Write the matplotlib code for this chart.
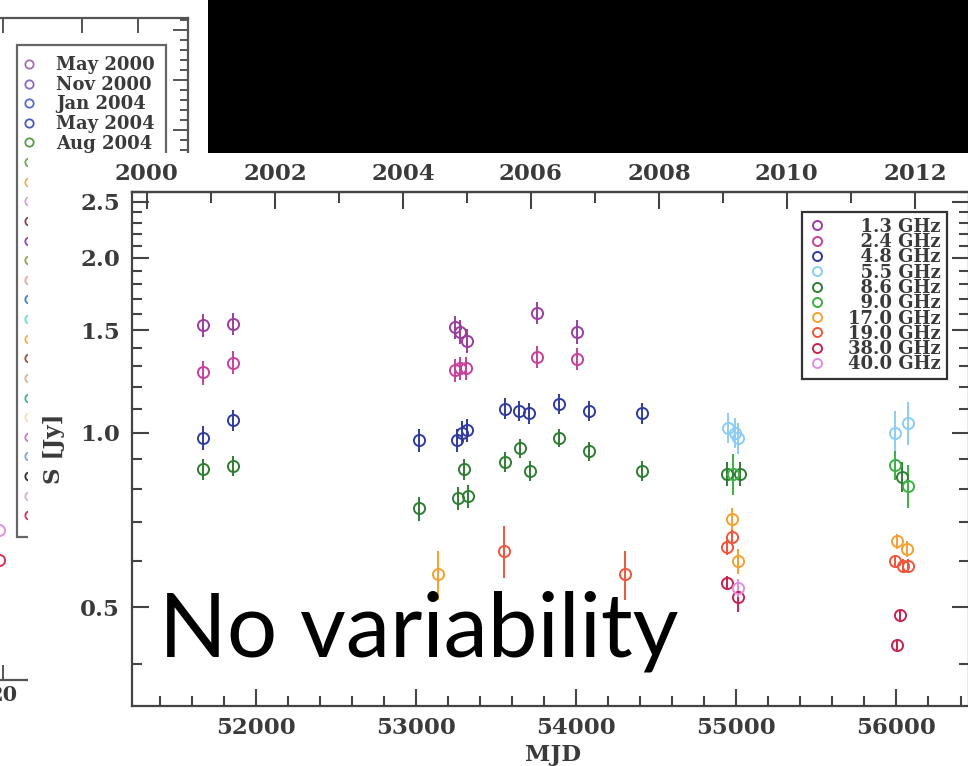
import matplotlib
matplotlib.use('Agg')
import matplotlib.pyplot as plt
from matplotlib.lines import Line2D
from matplotlib.patches import Rectangle
from matplotlib.ticker import FixedLocator, MultipleLocator, NullFormatter

plt.rcParams['font.family'] = 'DejaVu Serif'
plt.rcParams['font.weight'] = 'bold'
TXT = '#3a3a3a'
SPINE = '#444444'

# ---- light curve data (MJD, S [Jy], error [Jy]) per frequency ----
freq_labels = ['1.3 GHz', '2.4 GHz', '4.8 GHz', '5.5 GHz', '8.6 GHz',
               '9.0 GHz', '17.0 GHz', '19.0 GHz', '38.0 GHz', '40.0 GHz']
freq_colors = ['#9b3d9e', '#c8409b', '#2f3c9e', '#8ccdf5', '#2e7d32',
               '#3cb043', '#f5a030', '#f0553a', '#c8234f', '#e08fe0']

mjd_13 = [51669, 51860, 53244, 53275, 53317, 53754, 54004]
s_13 = [1.53, 1.54, 1.52, 1.49, 1.44, 1.61, 1.49]
e_13 = [0.07, 0.07, 0.07, 0.07, 0.07, 0.07, 0.07]

mjd_24 = [51669, 51860, 53244, 53275, 53310, 53754, 54004]
s_24 = [1.27, 1.32, 1.28, 1.29, 1.29, 1.35, 1.34]
e_24 = [0.06, 0.06, 0.06, 0.06, 0.06, 0.06, 0.06]

mjd_48 = [51669, 51860, 53021, 53255, 53286, 53317, 53556, 53645, 53708,
          53895, 54082, 54410]
s_48 = [0.98, 1.05, 0.97, 0.97, 1.00, 1.01, 1.10, 1.09, 1.08, 1.12, 1.09, 1.08]
e_48 = [0.045, 0.045, 0.045, 0.045, 0.045, 0.045, 0.045, 0.045, 0.045,
        0.045, 0.045, 0.045]

mjd_55 = [54950, 54992, 55013, 55991, 56074]
s_55 = [1.02, 1.00, 0.98, 1.00, 1.04]
e_55 = [0.06, 0.06, 0.06, 0.09, 0.09]

mjd_86 = [51669, 51860, 53021, 53265, 53300, 53327, 53556, 53650, 53712,
          53895, 54082, 54410, 54940, 55023, 56033]
s_86 = [0.865, 0.876, 0.74, 0.77, 0.865, 0.776, 0.89, 0.94, 0.86,
        0.98, 0.93, 0.86, 0.85, 0.85, 0.84]
e_86 = [0.035, 0.035, 0.035, 0.035, 0.035, 0.035, 0.035, 0.035, 0.035,
        0.035, 0.035, 0.035, 0.04, 0.04, 0.05]

mjd_90 = [54981, 55991, 56074]
s_90 = [0.85, 0.88, 0.81]
e_90 = [0.07, 0.05, 0.07]

mjd_170 = [53140, 54971, 55013, 56001, 56064]
s_170 = [0.57, 0.71, 0.60, 0.65, 0.63]
e_170 = [0.055, 0.03, 0.03, 0.02, 0.02]

mjd_190 = [53550, 54305, 54940, 54971, 55991, 56043, 56074]
s_190 = [0.626, 0.57, 0.636, 0.66, 0.60, 0.59, 0.59]
e_190 = [0.065, 0.055, 0.02, 0.02, 0.015, 0.015, 0.015]

mjd_380 = [54940, 55013, 56022, 56001]
s_380 = [0.55, 0.52, 0.485, 0.43]
e_380 = [0.015, 0.03, 0.01, 0.01]

mjd_400 = [55013]
s_400 = [0.54]
e_400 = [0.02]

series = [(mjd_13, s_13, e_13), (mjd_24, s_24, e_24), (mjd_48, s_48, e_48),
          (mjd_55, s_55, e_55), (mjd_86, s_86, e_86), (mjd_90, s_90, e_90),
          (mjd_170, s_170, e_170), (mjd_190, s_190, e_190),
          (mjd_380, s_380, e_380), (mjd_400, s_400, e_400)]

y_major = [0.5, 1.0, 1.5, 2.0, 2.5]
y_minor = [0.4, 0.6, 0.7, 0.8, 0.9, 1.1, 1.2, 1.3, 1.4, 1.6, 1.7, 1.8, 1.9,
           2.1, 2.2, 2.3, 2.4, 2.6]
years_major = [2000, 2002, 2004, 2006, 2008, 2010, 2012]
years_minor = [2001, 2003, 2005, 2007, 2009, 2011]

# ---- background (partly hidden) spectrum plot ----
epoch_labels = ['May 2000', 'Nov 2000', 'Jan 2004', 'May 2004', 'Aug 2004',
                'Oct 2004', 'Nov 2004', 'Dec 2004', 'Feb 2005', 'Apr 2005',
                'Jun 2005', 'Aug 2005', 'Oct 2005', 'Dec 2005', 'Mar 2006',
                'Jun 2006', 'Sep 2006', 'Dec 2006', 'Mar 2007', 'Jul 2007',
                'Oct 2007', 'Apr 2009', 'May 2009', 'Mar 2012']
epoch_colors = ['#a070b0', '#8a6cc0', '#5b6ac8', '#4a5ac0', '#5a9a4a',
                '#66b055', '#f0b060', '#d8a0e0', '#8b4a4a', '#9a40d0',
                '#9aa050', '#f0a0a0', '#4080e0', '#60dede', '#f0b050',
                '#a05040', '#e0b090', '#40b0a0', '#f8e0b0', '#e070c0',
                '#80a0f0', '#303030', '#d0b0d0', '#e03050']
bg_freq = [19.6, 19.6]
bg_flux = [15.0, 12.0]
bg_err = [1.5, 3.0]
bg_cols = ['#e090e0', '#e03050']

W, H = 968, 766
fig = plt.figure(figsize=(W / 100, H / 100), dpi=100)

# background axes
ax_bg = fig.add_axes([-0.30, 1 - 680 / H, 0.30 + 188 / W, (680 - 18) / H])
ax_bg.set_zorder(0)
ax_bg.set_xscale('log')
ax_bg.set_xlim(4.45, 51.6)
ax_bg.set_ylim(0, 66.2)
for c, f, s, e in zip(bg_cols, bg_freq, bg_flux, bg_err):
    ax_bg.errorbar([f], [s], yerr=[e], fmt='o', mfc='none', mec=c, ecolor=c,
                   ms=8, mew=1.4, elinewidth=1.4, capsize=0)
ax_bg.set_xticks([20, 30, 40])
ax_bg.set_xticklabels(['20', '30', '40'], fontsize=15, color=TXT)
ax_bg.xaxis.set_minor_locator(FixedLocator([]))
ax_bg.yaxis.set_major_locator(MultipleLocator(5))
ax_bg.yaxis.set_minor_locator(MultipleLocator(1))
ax_bg.tick_params(which='both', direction='in', top=True, right=True,
                  color='#555555', width=1.4)
ax_bg.tick_params(which='major', length=11)
ax_bg.tick_params(which='minor', length=6)
for sp in ax_bg.spines.values():
    sp.set_color('#555555')
    sp.set_linewidth(1.6)
bg_handles = [Line2D([], [], ls='none', marker='o', mfc='none', mec=c,
                     ms=6, mew=1.3) for c in epoch_colors]
ax_bg.legend(bg_handles, epoch_labels, loc='upper left',
             bbox_to_anchor=(17 / W, 1 - 45 / H), bbox_transform=fig.transFigure,
             borderaxespad=0, fontsize=13, labelspacing=0.09, handlelength=0.1,
             handletextpad=1.45, borderpad=0.62, fancybox=False, framealpha=1,
             edgecolor='#666666', labelcolor=TXT)
ax_bg.get_legend().get_frame().set_linewidth(1.6)

# white panel of the front figure and black title band
fig.patches.append(Rectangle((28 / W, 0), 1, 1 - 153 / H, transform=fig.transFigure,
                             facecolor='white', edgecolor='none', zorder=1))
fig.patches.append(Rectangle((208 / W, 1 - 153 / H), 1, 153 / H,
                             transform=fig.transFigure, facecolor='black',
                             edgecolor='none', zorder=1))

# main axes
ax = fig.add_axes([131.7 / W, 1 - 706 / H, (969 - 131.7) / W, (706 - 191.7) / H])
ax.set_zorder(2)
ax.patch.set_alpha(0)
for (m, s, e), c in zip(series, freq_colors):
    ax.errorbar(m, s, yerr=e, fmt='o', mfc='none', mec=c, ecolor=c, ms=8,
                mew=1.4, elinewidth=1.4, capsize=0)
ax.set_yscale('log')
ax.set_xlim(51226, 56453)
ax.set_ylim(0.338, 2.60)
ax.yaxis.set_major_locator(FixedLocator(y_major))
ax.yaxis.set_minor_locator(FixedLocator(y_minor))
ax.yaxis.set_minor_formatter(NullFormatter())
ax.set_yticklabels(['%.1f' % v for v in y_major])
ax.xaxis.set_major_locator(MultipleLocator(1000))
ax.xaxis.set_minor_locator(MultipleLocator(200))
ax.tick_params(which='both', direction='in', right=True, top=False,
               color=SPINE, width=1.5, labelsize=16.5, labelcolor=TXT)
ax.tick_params(which='major', length=12)
ax.tick_params(which='minor', length=7)
ax.tick_params(axis='y', pad=8.4)
ax.tick_params(axis='x', pad=7.7)
for sp in ax.spines.values():
    sp.set_color(SPINE)
    sp.set_linewidth(1.6)


def mjd2yr(m):
    return 2000 + (m - 51321) / 399.5


def yr2mjd(y):
    return 51321 + (y - 2000) * 399.5


sec = ax.secondary_xaxis('top', functions=(mjd2yr, yr2mjd))
sec.set_xticks(years_major)
sec.xaxis.set_minor_locator(FixedLocator(years_minor))
sec.tick_params(which='both', direction='in', color=SPINE, width=1.5,
                labelsize=16.5, labelcolor=TXT, pad=5.0)
sec.tick_params(which='major', length=12)
sec.tick_params(which='minor', length=8)
sec.spines['top'].set_color(SPINE)
sec.spines['top'].set_linewidth(1.6)

leg_handles = [Line2D([], [], ls='none', marker='o', mfc='none', mec=c,
                      ms=6.5, mew=1.4) for c in freq_colors]
leg_labels = [('\u2007' + l) if len(l) < 8 else l for l in freq_labels]
leg = ax.legend(leg_handles, leg_labels, loc='upper right',
                bbox_to_anchor=(947 / W, 1 - 212 / H), bbox_transform=fig.transFigure,
                borderaxespad=0, fontsize=13, labelspacing=-0.15,
                handlelength=1.0, handletextpad=1.25, borderpad=0.32,
                fancybox=False, framealpha=1, edgecolor='#333333', labelcolor=TXT)
leg.get_frame().set_linewidth(1.6)

fig.text(54 / W, 1 - 449 / H, 'S [Jy]', rotation=90, ha='center', va='center',
         fontsize=16.5, color=TXT, zorder=3)
fig.text(553 / W, 1 - 755 / H, 'MJD', ha='center', va='center',
         fontsize=16.5, color=TXT, zorder=3)
fig.text(159 / W, 1 - 657 / H, 'No variability', ha='left', va='baseline',
         fontsize=64, family='Lato', weight='normal', color='black', zorder=5)

fig.savefig('out.png', dpi=100, facecolor='white')
